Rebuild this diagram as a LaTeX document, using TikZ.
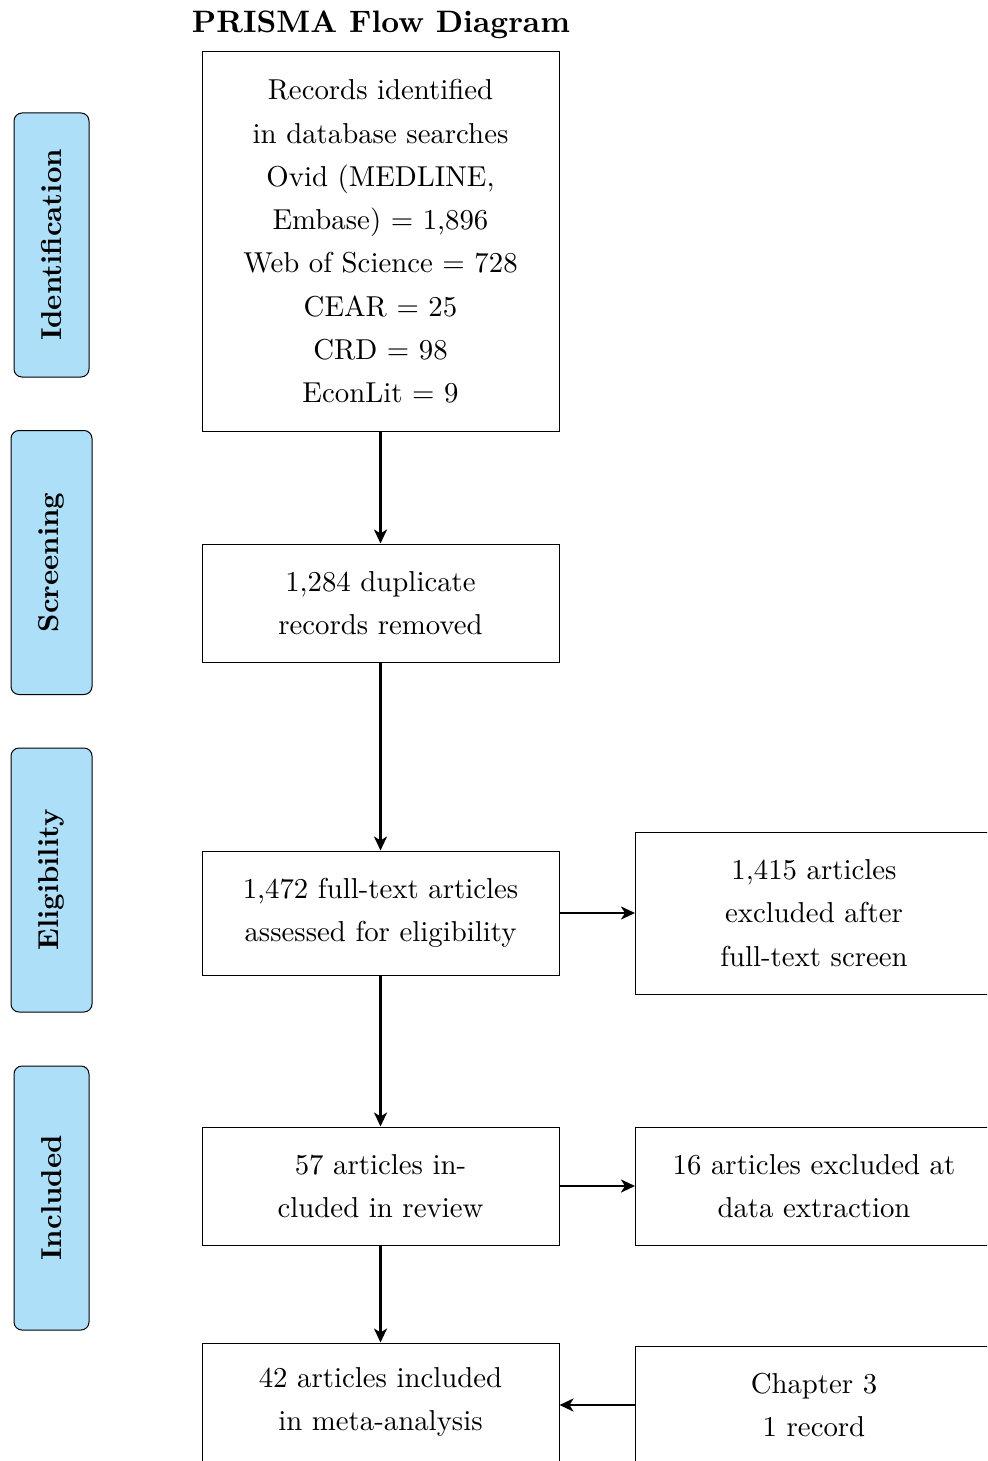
\documentclass[tikz,border=0pt]{standalone}
\usepackage{fontspec}
\usetikzlibrary{arrows.meta}
% Latin Modern at its 10pt design size, scaled up
\newfontfamily\tenrm{lmroman10-regular.otf}[BoldFont=lmroman10-bold.otf]
\definecolor{phasefill}{RGB}{173,223,249}
\begin{document}
\begin{tikzpicture}[x=0.5pt,y=-0.5pt,
  flowbox/.style={draw, line width=0.5pt, rectangle, inner sep=0pt,
    minimum width=178.5pt, align=center,
    font=\tenrm\fontsize{14.4}{21.65}\selectfont},
  phase/.style={draw, line width=0.5pt, rounded corners=4pt, fill=phasefill,
    inner sep=0pt, minimum width=132pt, rotate=90,
    font=\tenrm\bfseries\fontsize{14.4}{17}\selectfont},
  flow/.style={line width=1.4pt, -{Stealth[length=7pt,width=6.5pt,inset=2pt]}}]
  \clip (0,0) rectangle (987,1461);

  % heading
  \node[font=\tenrm\bfseries\fontsize{15.5}{18}\selectfont] (title) at (381,25) {PRISMA Flow Diagram};

  % phase labels on the left
  \node[phase, minimum height=37.5pt] (ident) at (51.5,245) {Identification};
  \node[phase, minimum height=40.5pt] (screen) at (51.5,562.5) {Screening};
  \node[phase, minimum height=40.5pt] (elig) at (51.5,880) {Eligibility};
  \node[phase, minimum height=37.5pt] (incl) at (51.5,1198) {Included};

  % main column
  \node[flowbox, minimum height=189.5pt] (records) at (380.5,241.5)
    {Records identified\\in database searches\\Ovid (MEDLINE,\\Embase) = 1,896\\Web of Science = 728\\CEAR = 25\\CRD = 98\\EconLit = 9};
  \node[flowbox, minimum height=59pt] (dup) at (380.5,603)
    {1,284 duplicate\\records removed};
  \node[flowbox, minimum height=62pt] (full) at (380.5,913)
    {1,472 full-text articles\\assessed for eligibility};
  \node[flowbox, minimum height=59pt] (review) at (380.5,1186)
    {57 articles in-\\cluded in review};
  \node[flowbox, minimum height=59pt] (meta) at (380.5,1402)
    {42 articles included\\in meta-analysis};

  % side column
  \node[flowbox, minimum height=81pt] (excl1) at (814,913)
    {1,415 articles\\excluded after\\full-text screen};
  \node[flowbox, minimum height=59pt] (excl2) at (814,1186)
    {16 articles excluded at\\data extraction};
  \node[flowbox, minimum height=59pt] (chap) at (814,1405)
    {Chapter 3\\1 record};

  % connectors
  \draw[flow] (records) -- (dup);
  \draw[flow] (dup) -- (full);
  \draw[flow] (full) -- (review);
  \draw[flow] (review) -- (meta);
  \draw[flow] (full) -- (excl1);
  \draw[flow] (review) -- (excl2);
  \draw[flow] (chap.west) -- (chap.west -| meta.east);
\end{tikzpicture}
\end{document}
